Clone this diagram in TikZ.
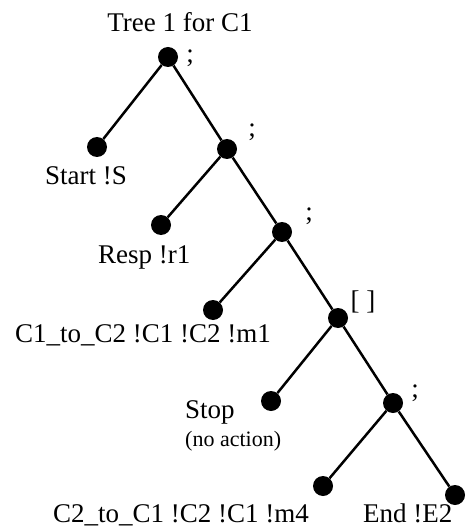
\documentclass[tikz,border=0pt]{standalone}
\usepackage{fontspec}
\setmainfont{Liberation Serif}

\begin{document}
\begin{tikzpicture}[x=1pt, y=-1pt,
    dot/.style={circle, fill=black, inner sep=0pt, minimum size=20pt},
    lbl/.style={anchor=base west, inner sep=0pt, font=\fontsize{27}{32}\selectfont},
    op/.style={inner sep=0pt, font=\fontsize{27}{32}\selectfont},
    note/.style={anchor=base west, inner sep=0pt, font=\fontsize{22}{26}\selectfont}]
    \useasboundingbox (0,0) rectangle (469,529);

    % Draw nodes
    \node[dot] (1) at (168,57) {};
    \node[dot] (2) at (97,147) {};
    \node[dot] (3) at (227,149) {};
    \node[dot] (4) at (161,225) {};
    \node[dot] (5) at (282,232) {};
    \node[dot] (6) at (213,310) {};
    \node[dot] (7) at (338,318) {};
    \node[dot] (8) at (271,401) {};
    \node[dot] (9) at (393,403) {};
    \node[dot] (10) at (323,486) {};
    \node[dot] (11) at (455,495) {};

    % Draw connections
    \draw[line width=2.5pt] (1) -- (2);
    \draw[line width=2.5pt] (1) -- (3);
    \draw[line width=2.5pt] (3) -- (4);
    \draw[line width=2.5pt] (3) -- (5);
    \draw[line width=2.5pt] (5) -- (6);
    \draw[line width=2.5pt] (5) -- (7);
    \draw[line width=2.5pt] (7) -- (8);
    \draw[line width=2.5pt] (7) -- (9);
    \draw[line width=2.5pt] (9) -- (10);
    \draw[line width=2.5pt] (9) -- (11);

    % Labels
    \node[op, anchor=base] (title) at (180,32) {Tree 1 for C1};
    \node[op] (o1) at (190,58) {;};
    \node[op] (o3) at (252,132) {;};
    \node[op] (o5) at (309,216) {;};
    \node[op] (o7) at (363,302) {[ ]};
    \node[op] (o9) at (415,393) {;};
    \node[lbl] (t2) at (45,185) {Start !S};
    \node[lbl] (t4) at (98,263) {Resp !r1};
    \node[lbl] (t6) at (15,342) {C1\_to\_C2 !C1 !C2 !m1};
    \node[lbl] (t8) at (185,418) {Stop};
    \node[note] (t8b) at (185,446) {(no action)};
    \node[lbl] (t10) at (53,522) {C2\_to\_C1 !C2 !C1 !m4};
    \node[lbl] (t11) at (363,522) {End !E2};
\end{tikzpicture}
\end{document}
